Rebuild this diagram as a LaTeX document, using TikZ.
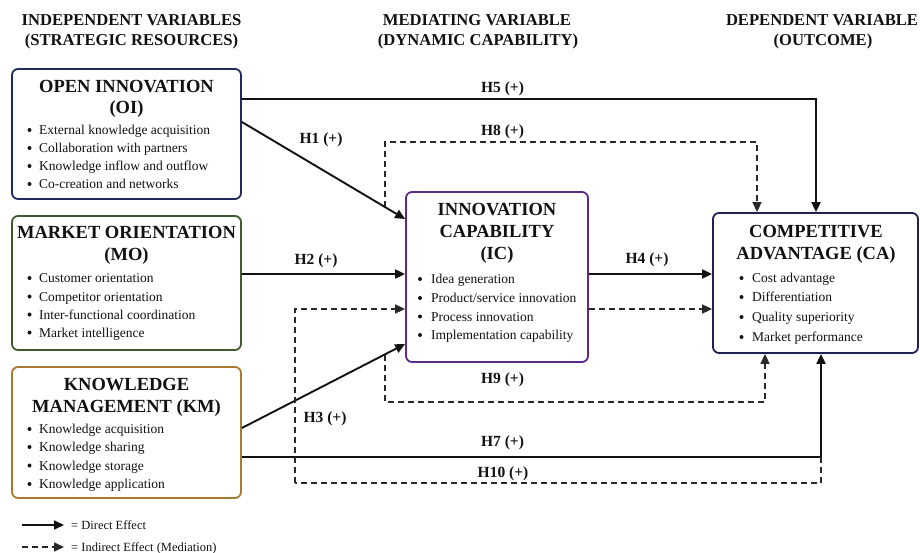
\documentclass[tikz,border=0pt]{standalone}
\usepackage{fontspec}
\setmainfont{Liberation Serif}
\usetikzlibrary{arrows.meta}
\definecolor{oicol}{HTML}{1F2A5E}
\definecolor{mocol}{HTML}{3E5A2E}
\definecolor{kmcol}{HTML}{A8792E}
\definecolor{iccol}{HTML}{5E2A88}
\definecolor{cacol}{HTML}{1E2152}
\definecolor{ink}{HTML}{111111}
\tikzset{
  box/.style={draw=#1, line width=1.8pt, rounded corners=6pt, fill=white, inner sep=0pt},
  hdr/.style={font=\fontsize{16.6}{18}\selectfont\bfseries, text=ink, inner sep=0pt, anchor=base},
  ttl/.style={font=\fontsize{18.5}{20}\selectfont\bfseries, text=ink, inner sep=0pt, anchor=base},
  itm/.style={font=\fontsize{13.5}{15}\selectfont, text=ink, inner sep=0pt, anchor=base west},
  bul/.style={circle, fill=ink, inner sep=0pt, minimum size=4pt},
  hlab/.style={font=\fontsize{15.5}{17}\selectfont\bfseries, text=ink, inner sep=0pt, anchor=base},
  leg/.style={font=\fontsize{12.5}{14}\selectfont, text=ink, inner sep=0pt, anchor=base west},
  direct/.style={draw=ink, line width=1.9pt, -{Triangle[length=10pt,width=9pt]}},
  indirect/.style={draw=ink!90, line width=1.6pt, dash pattern=on 6pt off 4pt, -{Triangle[length=10pt,width=9pt]}},
  plaindash/.style={draw=ink!90, line width=1.6pt, dash pattern=on 6pt off 4pt}
}
\begin{document}
\begin{tikzpicture}[x=1pt, y=-1pt]
\useasboundingbox (0,0) rectangle (920,553);
% headers (baselines)
\node[hdr] (h1a) at (131.5,25.5) {INDEPENDENT VARIABLES};
\node[hdr] (h1b) at (131.5,46) {(STRATEGIC RESOURCES)};
\node[hdr] (h2a) at (477,25.5) {MEDIATING VARIABLE};
\node[hdr] (h2b) at (478,46) {(DYNAMIC CAPABILITY)};
\node[hdr] (h3a) at (822,25.5) {DEPENDENT VARIABLE};
\node[hdr] (h3b) at (823,46) {(OUTCOME)};
% boxes
\node[box=oicol, minimum width=229pt, minimum height=130pt] (OI) at (126.5,134) {};
\node[box=mocol, minimum width=229pt, minimum height=134pt] (MO) at (126.5,283) {};
\node[box=kmcol, minimum width=229pt, minimum height=131pt] (KM) at (126.5,432.5) {};
\node[box=iccol, minimum width=182pt, minimum height=170pt] (IC) at (497,277) {};
\node[box=cacol, minimum width=205pt, minimum height=140pt] (CA) at (815.5,283) {};
% OI text
\node[ttl] (oit1) at (126.5,93) {OPEN INNOVATION};
\node[ttl] (oit2) at (126.5,114) {(OI)};
\foreach \y/\t [count=\i] in {130/{External knowledge acquisition},148/{Collaboration with partners},166/{Knowledge inflow and outflow},184/{Co-creation and networks}}{
  \node[bul] (oib\i) at (29.5,\y) {};
  \node[itm] (oii\i) at (39,\y+4.5) {\t};
}
% MO text
\node[ttl] (mot1) at (126.5,239) {MARKET ORIENTATION};
\node[ttl] (mot2) at (126.5,261) {(MO)};
\foreach \y/\t [count=\i] in {278/{Customer orientation},296.5/{Competitor orientation},314.5/{Inter-functional coordination},332.5/{Market intelligence}}{
  \node[bul] (mob\i) at (29.5,\y) {};
  \node[itm] (moi\i) at (39,\y+4.5) {\t};
}
% KM text
\node[ttl] (kmt1) at (126.5,390.5) {KNOWLEDGE};
\node[ttl] (kmt2) at (126.5,412.5) {MANAGEMENT (KM)};
\foreach \y/\t [count=\i] in {429/{Knowledge acquisition},447/{Knowledge sharing},465.5/{Knowledge storage},484/{Knowledge application}}{
  \node[bul] (kmb\i) at (29.5,\y) {};
  \node[itm] (kmi\i) at (39,\y+4.5) {\t};
}
% IC text
\node[ttl] (ict1) at (497,215.5) {INNOVATION};
\node[ttl] (ict2) at (497,237.5) {CAPABILITY};
\node[ttl] (ict3) at (497,259) {(IC)};
\foreach \y/\t [count=\i] in {279/{Idea generation},298/{Product/service innovation},316.5/{Process innovation},335/{Implementation capability}}{
  \node[bul] (icb\i) at (420,\y) {};
  \node[itm] (ici\i) at (431,\y+4.5) {\t};
}
% CA text
\node[ttl] (cat1) at (816,237.5) {COMPETITIVE};
\node[ttl] (cat2) at (816,259) {ADVANTAGE (CA)};
\foreach \y/\t [count=\i] in {278/{Cost advantage},297/{Differentiation},317/{Quality superiority},337/{Market performance}}{
  \node[bul] (cab\i) at (741.5,\y) {};
  \node[itm] (cai\i) at (752,\y+4.5) {\t};
}
% corner coordinates
\coordinate (h8s) at (385,207);
\coordinate (h9s) at (385,355);
\coordinate (h7c) at (821,457);
\coordinate (h10l) at (295,483);
% connectors
\draw[direct] (OI.east |- 0,99) -| (CA.north -| 816,0);
\draw[indirect] (h8s) |- (757,142) -- (CA.north -| 757,0);
\draw[direct] (OI.east |- 0,122) -- (IC.west |- 0,219);
\draw[direct] (MO.east |- 0,274) -- (IC.west |- 0,274);
\draw[direct] (KM.east |- 0,428) -- (IC.west |- 0,344);
\draw[direct] (IC.east |- 0,274) -- (CA.west |- 0,274);
\draw[indirect] (IC.east |- 0,309) -- (CA.west |- 0,309);
\draw[indirect] (h9s) |- (765,402) -- (CA.south -| 765,0);
\draw[direct] (KM.east |- 0,457) -| (CA.south -| 821,0);
\draw[plaindash] (h7c) |- (h10l);
\draw[indirect] (h10l) |- (IC.west |- 0,309);
% labels (baselines)
\node[hlab] (lh5) at (502.5,92.5) {H5 (+)};
\node[hlab] (lh8) at (502.5,135.5) {H8 (+)};
\node[hlab] (lh1) at (321,143.5) {H1 (+)};
\node[hlab] (lh2) at (316,264.5) {H2 (+)};
\node[hlab] (lh3) at (325,422.5) {H3 (+)};
\node[hlab] (lh4) at (647,263.5) {H4 (+)};
\node[hlab] (lh9) at (502.5,383.5) {H9 (+)};
\node[hlab] (lh7) at (502.5,446.5) {H7 (+)};
\node[hlab] (lh10) at (503,477.5) {H10 (+)};
% legend
\coordinate (l1s) at (22,525);
\coordinate (l1e) at (64,525);
\coordinate (l2s) at (22,547);
\coordinate (l2e) at (64,547);
\draw[direct, line width=1.6pt] (l1s) -- (l1e);
\draw[indirect] (l2s) -- (l2e);
\node[leg] (lg1) at (71,529) {= Direct Effect};
\node[leg] (lg2) at (71,551) {= Indirect Effect (Mediation)};
\end{tikzpicture}
\end{document}
